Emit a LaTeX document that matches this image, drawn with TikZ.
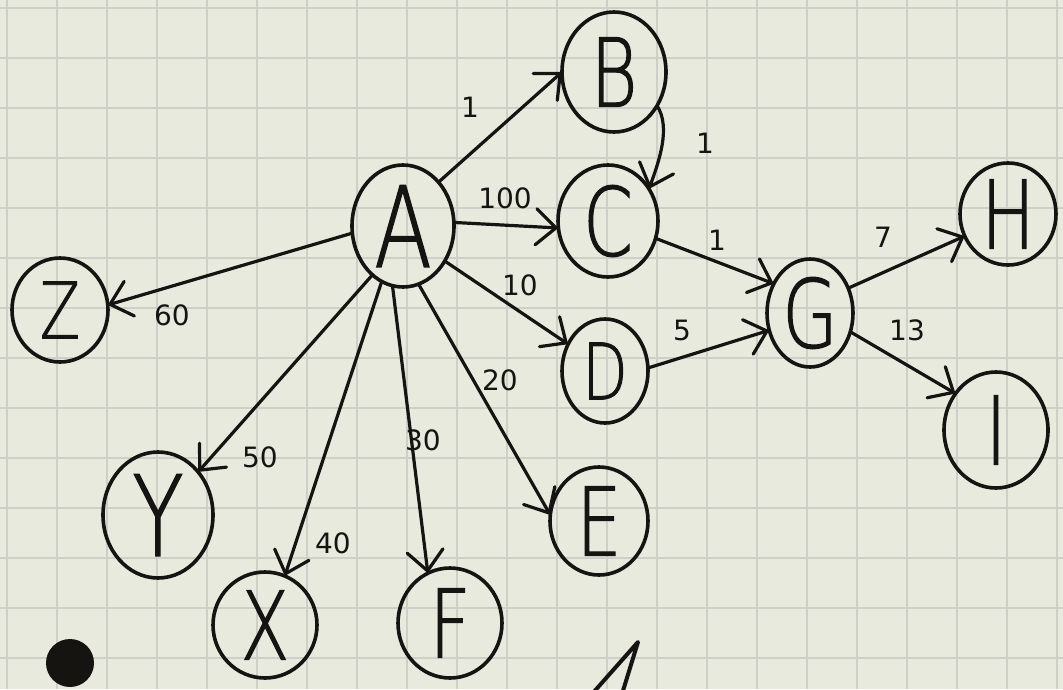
\documentclass[tikz,border=0pt]{standalone}
\usepackage{fontspec}
\usetikzlibrary{shapes.geometric,arrows.meta}
\newfontfamily\handfont{DejaVu Sans ExtraLight}[FakeStretch=0.75,FakeBold=1.2]
\newfontfamily\numfont{DejaVu Sans}
\definecolor{paper}{RGB}{233,234,222}
\definecolor{gridc}{RGB}{206,207,198}
\definecolor{ink}{RGB}{22,20,16}
\begin{document}
\begin{tikzpicture}[x=1pt,y=-1pt,
  vtx/.style={ellipse, draw=ink, line width=3.6pt, inner sep=0pt, outer sep=0pt, text=ink,
    font=\handfont\fontsize{95}{95}\selectfont},
  big/.style={font=\handfont\fontsize{112}{112}\selectfont},
  small/.style={font=\handfont\fontsize{78}{78}\selectfont},
  conn/.style={draw=ink, line width=3.2pt, line cap=round,
    -{Straight Barb[length=20pt,width=36pt,line cap=round]}},
  wlab/.style={text=ink, inner sep=0pt, font=\numfont\fontsize{28}{28}\selectfont},
  gridline/.style={draw=gridc, line width=1.8pt}
]
\useasboundingbox (0,0) rectangle (1063,689);
\fill[paper] (0,0) rectangle (1063,689);
\foreach \gx in {7,57,...,1057} \draw[gridline] (\gx,0) -- (\gx,689);
\foreach \gy in {8,58,...,658} \draw[gridline] (0,\gy) -- (1063,\gy);

% nodes
\node[vtx, big, minimum width=102pt, minimum height=122pt] (A) at (403,226) {A};
\node[vtx, minimum width=104pt, minimum height=120pt] (B) at (614,72) {B};
\node[vtx, minimum width=100pt, minimum height=112pt] (C) at (608,221) {C};
\node[vtx, small, minimum width=86pt, minimum height=104pt] (D) at (605,371) {D};
\node[vtx, minimum width=98pt, minimum height=108pt] (E) at (599,521) {E};
\node[vtx, minimum width=104pt, minimum height=110pt] (F) at (450,623) {F};
\node[vtx, minimum width=104pt, minimum height=106pt] (X) at (265,625) {X};
\node[vtx, big, minimum width=110pt, minimum height=126pt] (Y) at (158,515) {Y};
\node[vtx, small, minimum width=96pt, minimum height=104pt] (Z) at (60,310) {Z};
\node[vtx, minimum width=86pt, minimum height=108pt] (G) at (810,313) {G};
\node[vtx, minimum width=96pt, minimum height=102pt] (H) at (1008,214) {H};
\node[vtx, minimum width=104pt, minimum height=116pt] (I) at (996,430) {I};

% connectors
\draw[conn] (A.51) -- (B.180);
\draw[conn] (B.-38) .. controls +(14,22) and +(10,-28) .. (C.38);
\draw[conn] (A.4) -- (C.188);
\draw[conn] (A.-40) -- (D.144);
\draw[conn] (C.-20) -- (G.141);
\draw[conn] (D.4) -- (G.203);
\draw[conn] (G.33) -- (H.207);
\draw[conn] (G.-25) -- (I.138);
\draw[conn] (A.-75) -- (E.173);
\draw[conn] (A.-100) -- (F.114);
\draw[conn] (A.-111) -- (X.68);
\draw[conn] (A.-122) -- (Y.47);
\draw[conn] (A.188) -- (Z.6);

% weights
\node[wlab] (wab) at (470,107) {1};
\node[wlab] (wbc) at (705,143) {1};
\node[wlab] (wac) at (505,198) {100};
\node[wlab] (wcg) at (717,240) {1};
\node[wlab] (wad) at (520,285) {10};
\node[wlab] (wdg) at (682,330) {5};
\node[wlab] (wae) at (500,380) {20};
\node[wlab] (waf) at (423,440) {30};
\node[wlab] (wax) at (333,543) {40};
\node[wlab] (way) at (260,457) {50};
\node[wlab] (waz) at (172,315) {60};
\node[wlab] (wgh) at (883,237) {7};
\node[wlab] (wgi) at (907,330) {13};

% loose marks
\fill[ink] (70,663) circle (24pt);
\draw[ink, line width=4pt, line cap=round, line join=round] (592,694) -- (638,642) -- (622,694);
\end{tikzpicture}
\end{document}
